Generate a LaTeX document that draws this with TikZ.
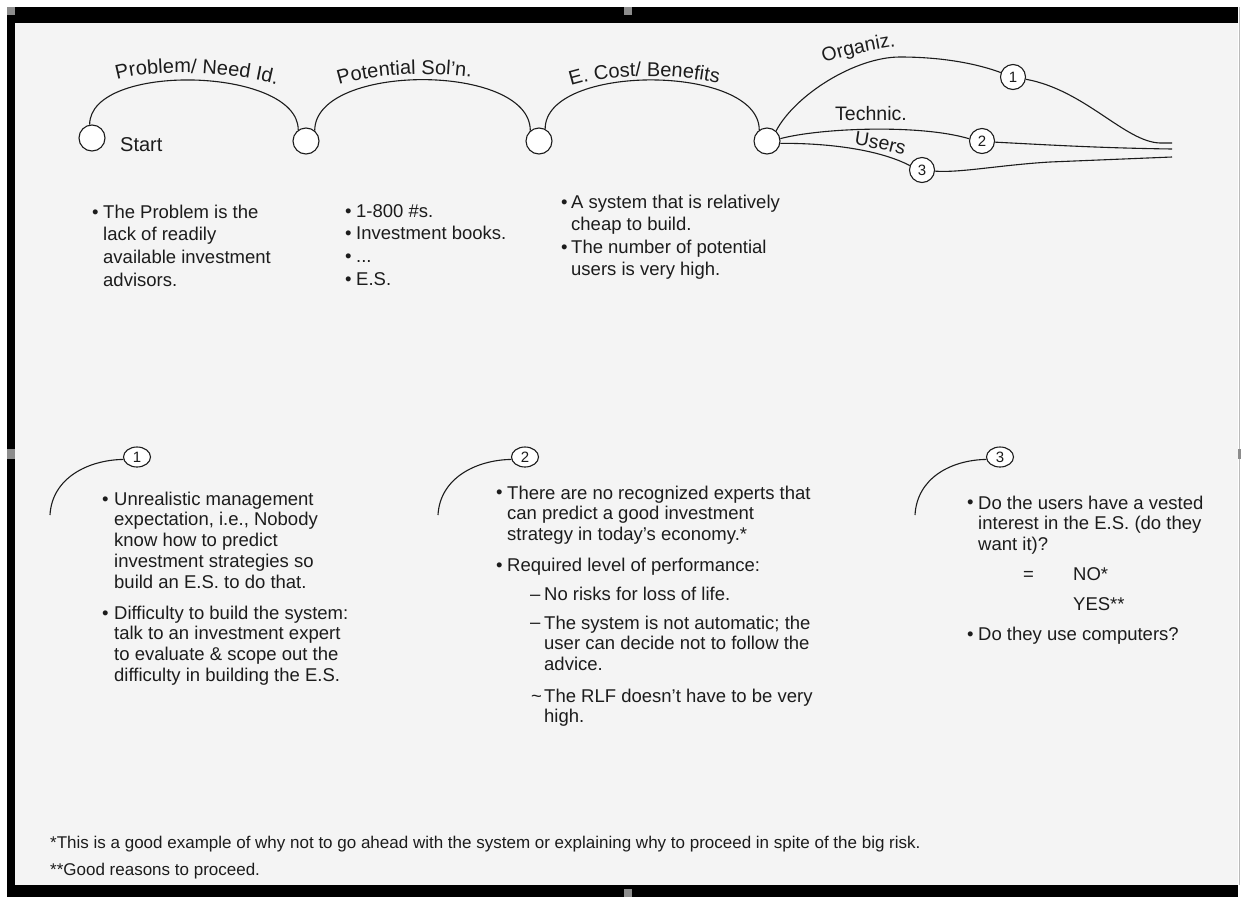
\documentclass[tikz,border=0pt]{standalone}
\usepackage{fontspec}
\setmainfont{Liberation Sans}
\usetikzlibrary{shapes.geometric,decorations.text}

\definecolor{panel}{HTML}{F4F4F4}
\definecolor{handle}{HTML}{8C8C8C}
\definecolor{ink}{HTML}{1C1C1C}

\newcommand\txttop{\fontsize{18.5}{22.7}\selectfont}
\newcommand\txtbody{\fontsize{18.5}{20.9}\selectfont}
\newcommand\txtnote{\fontsize{17}{18}\selectfont}
\newcommand\txtarc{\fontsize{20}{22}\selectfont}
\newcommand\txtbranch{\fontsize{19.5}{22}\selectfont}

\begin{document}
\begin{tikzpicture}[x=1pt,y=-1pt,
  wire/.style={draw=ink, line width=1.1pt},
  stop/.style={circle, draw=ink, line width=1.1pt, fill=white, minimum size=26pt, inner sep=0pt},
  numstop/.style={circle, draw=ink, line width=1.1pt, fill=white, minimum size=25pt, inner sep=0pt, text=ink, font=\fontsize{15}{15}\selectfont},
  numtag/.style={ellipse, draw=ink, line width=1.1pt, fill=white, minimum width=27pt, minimum height=20pt, inner sep=0pt, text=ink, font=\fontsize{15}{15}\selectfont},
  % multi-line text nodes are placed by the baseline of their last line
  body/.style={anchor=base west, inner sep=0pt, align=left, text=ink, font=\txtbody},
  topbody/.style={body, font=\txttop},
  note/.style={anchor=base west, inner sep=0pt, text=ink, font=\txtnote},
  arclabel/.style={decorate, decoration={text along path, text color=ink}}
]

% page, frame and panel
\useasboundingbox (0,0) rectangle (1241,897);
\fill[white] (0,0) rectangle (1241,897);
\fill[panel] (15,23) rectangle (1238,885);
\fill[black] (7,7) rectangle (1238,23);
\fill[black] (7,7) rectangle (15,897);
\fill[black] (7,885) rectangle (1238,897);
\draw[handle!60, line width=1pt] (1239.5,7) -- (1239.5,885);
% sizing handles of the frame
\fill[handle] (7,7) rectangle (15,15);
\fill[handle] (624,7) rectangle (632,15);
\fill[handle] (7,449) rectangle (15,459);
\fill[handle] (1238,449) rectangle (1241,459);
\fill[handle] (624,889) rectangle (632,897);

% ---------------- main path of the study ----------------
\node[stop] (start) at (92,138) {};
\node[stop] (sol)   at (306,141) {};
\node[stop] (cost)  at (539,141) {};
\node[stop] (fork)  at (767,141) {};

\node[anchor=base west, inner sep=0pt, text=ink, font=\txtarc] (startlab) at (120,151) {Start};

\draw[wire] (start.100) .. controls +(0,-63) and +(0,-63) .. (sol.125);
\draw[wire] (sol.50)    .. controls +(0,-68) and +(0,-68) .. (cost.130);
\draw[wire] (cost.63)   .. controls +(0,-66) and +(0,-66) .. (fork.125);

\path[arclabel, decoration={text={|\txtarc|Problem/ Need Id.}}]
  (117,80) .. controls (150,70) and (235,68) .. (300,92);
\path[arclabel, decoration={text={|\txtarc|Potential Sol'n.}}]
  (339,85) .. controls (370,75) and (430,69) .. (490,80);
\path[arclabel, decoration={text={|\txtarc|E. Cost/ Benefits}}]
  (571,86) .. controls (605,75) and (670,70) .. (740,88);

% ---------------- three feasibility branches ----------------
\node[numstop] (org) at (1013,77) {1};
\node[numstop] (tec) at (982,141) {2};
\node[numstop] (usr) at (922,170) {3};
\coordinate (endO) at (1172,143);
\coordinate (endT) at (1172,149);
\coordinate (endU) at (1172,157);

\draw[wire] (fork.48) .. controls (795,95) and (855,57) .. (900,57)
                      .. controls (940,57) and (975,63) .. (org.160);
\draw[wire] (org.-10) .. controls (1085,90) and (1125,142) .. (1160,143) -- (endO);
\draw[wire] (fork.10) .. controls (820,128) and (920,124) .. (tec.170);
\draw[wire] (tec.-5) .. controls (1050,145) and (1100,148) .. (endT);
\draw[wire] (fork.-10) .. controls (830,143) and (880,150) .. (usr.160);
\draw[wire] (usr.-5) .. controls (960,173) and (1000,165) .. (1050,162) -- (endU);

\path[arclabel, decoration={text={|\txtbranch|Organiz.}}]
  (824,63) .. controls (848,55) and (878,48) .. (928,42);
\node[anchor=base west, inner sep=0pt, text=ink, font=\txtbranch] (teclab) at (835,120) {Technic.};
\path[arclabel, decoration={text={|\txtbranch|Users}}]
  (854,145) .. controls (875,148) and (895,152) .. (935,164);

% ---------------- notes under the main path ----------------
\node[topbody] (probdot) at (92,218) {•};
\node[topbody] (probtxt) at (103,286.1) {The Problem is the\\lack of readily\\available investment\\advisors.};

\node[topbody] (soldots) at (345,285.1) {•\\•\\•\\•};
\node[topbody] (soltxt)  at (356,285.1) {1-800 \#s.\\Investment books.\\...\\E.S.};

\node[topbody] (costdotA) at (561,208) {•};
\node[topbody] (costtxtA) at (571,230.7) {A system that is relatively\\cheap to build.};
\node[topbody] (costdotB) at (561,253) {•};
\node[topbody] (costtxtB) at (571,275.7) {The number of potential\\users is very high.};

% ---------------- branch 1: organizational ----------------
\node[numtag] (tagA) at (137,457) {1};
\coordinate (tagAend) at (50,515);
\draw[wire] (tagA.190) .. controls (88,460) and (52,478) .. (tagAend);

\node[body] (orgdotA) at (102,505) {•};
\node[body] (orgtxtA) at (114,588.6) {Unrealistic management\\expectation, i.e., Nobody\\know how to predict\\investment strategies so\\build an E.S. to do that.};
\node[body] (orgdotB) at (102,619) {•};
\node[body] (orgtxtB) at (114,681.7) {Difficulty to build the system:\\talk to an investment expert\\to evaluate \& scope out the\\difficulty in building the E.S.};

% ---------------- branch 2: technical ----------------
\node[numtag] (tagB) at (525,457) {2};
\coordinate (tagBend) at (438,515);
\draw[wire] (tagB.190) .. controls (476,460) and (440,478) .. (tagBend);

\node[body] (tecdotA) at (496,498) {•};
\node[body] (tectxtA) at (507,540.8) {There are no recognized experts that\\can predict a good investment\\strategy in today's economy.*};
\node[body] (tecdotB) at (496,571) {•};
\node[body] (tectxtB) at (507,571) {Required level of performance:};
\node[body] (tecdashA) at (530,600) {–};
\node[body] (tectxtC)  at (544,600) {No risks for loss of life.};
\node[body] (tecdashB) at (530,628) {–};
\node[body] (tectxtD)  at (544,670.8) {The system is not automatic; the\\user can decide not to follow the\\advice.};
\node[body] (tectilde) at (531,702) {\textasciitilde};
\node[body] (tectxtE)  at (544,722.9) {The RLF doesn't have to be very\\high.};

% ---------------- branch 3: users ----------------
\node[numtag] (tagC) at (1000,457) {3};
\coordinate (tagCend) at (915,515);
\draw[wire] (tagC.190) .. controls (951,460) and (917,478) .. (tagCend);

\node[body] (usrdotA) at (967,508) {•};
\node[body] (usrtxtA) at (978,550.8) {Do the users have a vested\\interest in the E.S. (do they\\want it)?};
\node[body] (usreq)  at (1023,580) {=};
\node[body] (usrno)  at (1073,580) {NO*};
\node[body] (usryes) at (1073,610) {YES**};
\node[body] (usrdotB) at (967,640) {•};
\node[body] (usrtxtB) at (978,640) {Do they use computers?};

% ---------------- footnotes ----------------
\node[note] (noteA) at (50,848) {*This is a good example of why not to go ahead with the system or explaining why to proceed in spite of the big risk.};
\node[note] (noteB) at (50,875) {**Good reasons to proceed.};

\end{tikzpicture}
\end{document}
